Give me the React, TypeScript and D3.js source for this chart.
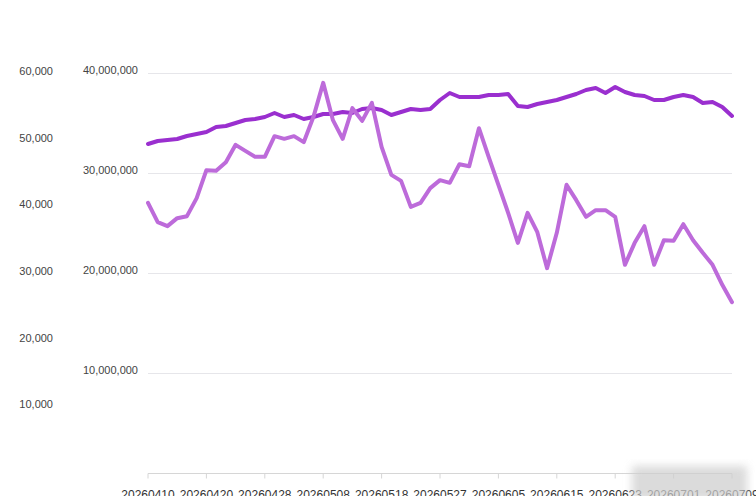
import React from "react";
import * as d3 from "d3";

const dates = [
  "20260410", "20260413", "20260414", "20260415", "20260416", "20260417",
  "20260420", "20260421", "20260422", "20260423", "20260424", "20260427",
  "20260428", "20260429", "20260430", "20260505", "20260506", "20260507",
  "20260508", "20260511", "20260512", "20260513", "20260514", "20260515",
  "20260518", "20260519", "20260520", "20260521", "20260522", "20260526",
  "20260527", "20260528", "20260529", "20260601", "20260602", "20260603",
  "20260605", "20260608", "20260609", "20260610", "20260611", "20260612",
  "20260615", "20260616", "20260617", "20260618", "20260619", "20260622",
  "20260623", "20260624", "20260625", "20260626", "20260629", "20260630",
  "20260701", "20260702", "20260703", "20260706", "20260707", "20260708",
  "20260709",
];

// series on the left axis (0 - 60,000)
const countValues = [
  40600, 37700, 37100, 38300, 38600, 41300, 45500, 45400, 46700, 49300,
  48400, 47500, 47500, 50600, 50200, 50600, 49700, 53500, 58600, 53000,
  50200, 54800, 52900, 55600, 49000, 44800, 43900, 40000, 40600, 42800,
  44000, 43600, 46400, 46100, 51800, 47500, 43300, 39100, 34600, 39100,
  36200, 30800, 36100, 43300, 41000, 38500, 39500, 39500, 38500, 31300,
  34600, 37100, 31300, 35000, 34900, 37400, 35000, 33100, 31300, 28300,
  25700,
];

// series on the second axis (0 - 40,000,000)
const amountValues = [
  32950000, 33250000, 33350000, 33450000, 33750000, 33950000, 34150000, 34650000,
  34750000, 35050000, 35350000, 35450000, 35650000, 36050000, 35650000, 35850000,
  35450000, 35650000, 35950000, 35950000, 36150000, 36050000, 36450000, 36550000,
  36350000, 35850000, 36150000, 36450000, 36350000, 36450000, 37350000, 38050000,
  37650000, 37650000, 37650000, 37850000, 37850000, 37950000, 36750000, 36650000,
  36950000, 37150000, 37350000, 37650000, 37950000, 38350000, 38550000, 38050000,
  38650000, 38150000, 37850000, 37750000, 37350000, 37350000, 37650000, 37850000,
  37650000, 37050000, 37150000, 36650000, 35750000,
];

const leftTicks = [10000, 20000, 30000, 40000, 50000, 60000];
const rightTicks = [10000000, 20000000, 30000000, 40000000];

const W = 756;
const H = 496;
const plot = { left: 148, right: 732, top: 73.5, bottom: 473.5 };

export default function App() {
  const x = d3.scalePoint<string>().domain(dates).range([plot.left, plot.right]);
  const yLeft = d3.scaleLinear().domain([0, 60000]).range([plot.bottom, plot.top]);
  const yRight = d3.scaleLinear().domain([0, 40000000]).range([plot.bottom, plot.top]);
  const fmt = d3.format(",");

  const lineLeft = d3
    .line<number>()
    .x((_, i) => x(dates[i]) as number)
    .y((d) => yLeft(d));
  const lineRight = d3
    .line<number>()
    .x((_, i) => x(dates[i]) as number)
    .y((d) => yRight(d));

  const labelDates = dates.filter((_, i) => i % 6 === 0);
  const font = "'Liberation Sans', Arial, sans-serif";

  return (
    <svg
      width={W}
      height={H}
      style={{ position: "absolute", left: 0, top: 0, background: "#fff" }}
    >
      <defs>
        <filter id="blur" x="-20%" y="-20%" width="140%" height="140%">
          <feGaussianBlur stdDeviation="4" />
        </filter>
      </defs>

      {/* grid */}
      {rightTicks.map((t) => (
        <line
          key={t}
          x1={plot.left}
          x2={plot.right}
          y1={yRight(t)}
          y2={yRight(t)}
          stroke="#e6e6ea"
          strokeWidth={1}
        />
      ))}

      {/* left axis labels */}
      {leftTicks.map((t) => (
        <text
          key={t}
          x={53}
          y={yLeft(t) - 1.5}
          textAnchor="end"
          dominantBaseline="middle"
          fontSize={11}
          fontFamily={font}
          fill="#444"
        >
          {fmt(t)}
        </text>
      ))}

      {/* second axis labels */}
      {rightTicks.map((t) => (
        <text
          key={t}
          x={138}
          y={yRight(t) - 2.5}
          textAnchor="end"
          dominantBaseline="middle"
          fontSize={11}
          fontFamily={font}
          fill="#444"
        >
          {fmt(t)}
        </text>
      ))}

      {/* x axis */}
      <line x1={plot.left} x2={plot.right} y1={plot.bottom} y2={plot.bottom} stroke="#d6d6d6" />
      {labelDates.map((d) => (
        <g key={d} transform={`translate(${x(d)},0)`}>
          <line y1={plot.bottom} y2={plot.bottom + 5} stroke="#d6d6d6" />
          <text
            y={498.5}
            textAnchor="middle"
            fontSize={12}
            fontFamily={font}
            fill="#333"
          >
            {d}
          </text>
        </g>
      ))}

      {/* lines */}
      <path
        d={lineRight(amountValues) ?? ""}
        fill="none"
        stroke="#9a2fcf"
        strokeWidth={4}
        strokeLinejoin="round"
        strokeLinecap="round"
      />
      <path
        d={lineLeft(countValues) ?? ""}
        fill="none"
        stroke="#bd6bda"
        strokeWidth={4}
        strokeLinejoin="round"
        strokeLinecap="round"
      />

      {/* blurred watermark patch */}
      <rect x={632} y={466} width={115} height={34} fill="#cfcfcf" opacity={0.75} filter="url(#blur)" />
    </svg>
  );
}
